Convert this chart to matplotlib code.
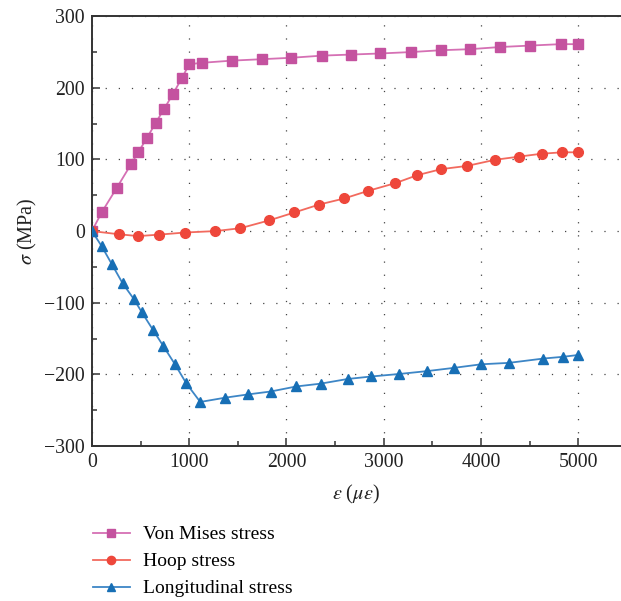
import matplotlib
matplotlib.use("Agg")
import matplotlib.pyplot as plt
from matplotlib.ticker import MultipleLocator

# strain (micro-strain) and stresses (MPa)
vmStrain = [0, 100, 254, 401, 476, 566, 655, 744, 836, 926, 1001, 1135, 1437, 1749,
            2050, 2369, 2668, 2966, 3285, 3587, 3889, 4198, 4503, 4818, 5000]
vmStress = [0, 26, 60, 93, 110, 130, 151, 171, 192, 214, 233, 235, 238, 240,
            242, 245, 246.5, 248, 250, 252.5, 254, 257, 259, 261, 261]

hoopStrain = [0, 281, 476, 686, 957, 1269, 1526, 1824, 2082, 2335, 2593, 2836,
              3121, 3344, 3591, 3858, 4143, 4393, 4623, 4835, 5000]
hoopStress = [0, -4.5, -7, -5, -2, 0, 4, 15, 26, 37, 45.5, 56,
              67, 78, 86.5, 91, 99.5, 104, 108, 110, 110]

longStrain = [0, 100, 206, 316, 429, 514, 628, 734, 854, 970, 1114, 1371, 1608,
              1838, 2099, 2353, 2630, 2874, 3162, 3447, 3721, 4002, 4287, 4640, 4846, 5000]
longStress = [0, -21, -46.5, -73, -94.5, -113.5, -138, -160.5, -186, -212.5, -238.6,
              -232.6, -228, -224, -217, -213, -206.5, -203, -199.5, -195.5, -191,
              -186, -184, -178, -175.5, -173]

plt.rcParams['font.family'] = 'Liberation Serif'
plt.rcParams['mathtext.fontset'] = 'stix'

fig = plt.figure(figsize=(6.21, 6.01), dpi=100)
ax = fig.add_axes([0.148, 0.258, 0.852, 0.715])

ax.plot(vmStrain, vmStress, color='#d570b4', lw=1.3, marker='s', markersize=6.5,
        markerfacecolor='#c4529f', markeredgecolor='#c4529f', label='Von Mises stress', zorder=3)
ax.plot(hoopStrain, hoopStress, color='#f26a5e', lw=1.3, marker='o', markersize=7,
        markerfacecolor='#ee473b', markeredgecolor='#ee473b', label='Hoop stress', zorder=3)
ax.plot(longStrain, longStress, color='#3d86c6', lw=1.3, marker='^', markersize=7.5,
        markerfacecolor='#176fb5', markeredgecolor='#176fb5', label='Longitudinal stress', zorder=3)

ax.set_xlim(0, 5440)
ax.set_ylim(-300, 300)
ax.xaxis.set_major_locator(MultipleLocator(1000))
ax.xaxis.set_minor_locator(MultipleLocator(500))
ax.yaxis.set_major_locator(MultipleLocator(100))
ax.yaxis.set_minor_locator(MultipleLocator(50))
ax.tick_params(which='both', direction='in', colors='#333333', labelcolor='#222222',
               labelsize=14.2, width=1.1, top=False, right=False)
ax.tick_params(which='major', length=6, pad=5)
ax.tick_params(which='minor', length=3.5)

for side in ['left', 'bottom', 'top']:
    ax.spines[side].set_color('#333333')
    ax.spines[side].set_linewidth(1.4)
ax.spines['right'].set_visible(False)

ax.grid(True, which='major', color='#444444', lw=0.9, linestyle=(0, (1, 9.5)))

ax.set_xlabel(r'$\varepsilon$ ($\mu\varepsilon$)', fontsize=14.5, labelpad=8, color='#222222')
ax.set_ylabel(r'$\sigma$ (MPa)', fontsize=14.5, labelpad=4, color='#222222')

fig.legend(loc='upper left', bbox_to_anchor=(0.137, 0.138), frameon=False, fontsize=14,
           handlelength=1.9, labelspacing=0.48, handletextpad=0.7, borderaxespad=0,
           markerscale=0.85)

fig.savefig('out.png', dpi=100)
